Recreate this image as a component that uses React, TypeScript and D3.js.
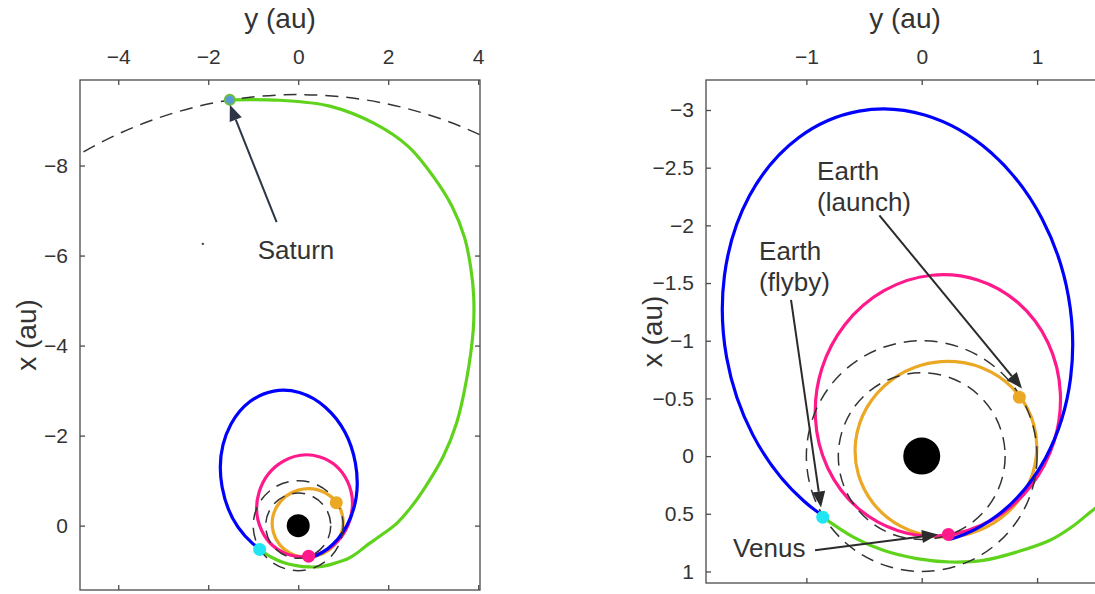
import React, { useEffect, useRef } from 'react'
import * as d3 from 'd3'

// points are [y (au), x (au)] : y runs across, x runs down
type Pt = [number, number]

const orbitRadii = [0.723, 1.0, 9.58] // Venus, Earth, Saturn (dashed)

// transfer orbits: centre, half-axes (before tilt), tilt in degrees
type Orbit = { name: string; center: Pt; ry: number; rx: number; tilt: number; color: string }
const orbits: Orbit[] = [
  { name: 'launch', center: [0.21, -0.06], ry: 0.79, rx: 0.759, tilt: -16, color: '#eaa824' },
  { name: 'venus', center: [0.14, -0.44], ry: 1.055, rx: 1.14, tilt: 17.6, color: '#ff1a8c' },
  { name: 'return', center: [-0.21, -1.12], ry: 1.505, rx: 1.9, tilt: -10.1, color: '#0000ff' },
]

const greenTrack: Pt[] = [
  [-0.858, 0.529], [-0.593, 0.702], [-0.333, 0.817], [-0.043, 0.889], [0.245, 0.918],
  [0.534, 0.904], [0.823, 0.832], [1.112, 0.73], [1.3, 0.615], [1.5, 0.456],
  [1.85, 0.21], [2.19, -0.05], [2.5, -0.4], [2.78, -0.79], [3.22, -1.53], [3.52, -2.28],
  [3.74, -3.24], [3.89, -4.35], [3.9, -5.09], [3.83, -5.76], [3.69, -6.42], [3.42, -7.09],
  [3.0, -7.76], [2.45, -8.42], [1.7, -8.93], [0.7, -9.32], [-0.41, -9.45], [-1.52, -9.46],
]

const launchPt: Pt = [0.846, -0.511]
const venusPt: Pt = [0.231, 0.679]
const flybyPt: Pt = [-0.858, 0.529]
const saturnPt: Pt = [-1.52, -9.46]
const strayPt: Pt = [-2.12, -6.26]

const leftYTicks = [-4, -2, 0, 2, 4]
const leftXTicks = [-8, -6, -4, -2, 0]
const rightYTicks = [-1, 0, 1]
const rightXTicks = [-3, -2.5, -2, -1.5, -1, -0.5, 0, 0.5, 1]

type Note = { lines: string[]; text: Pt; tail: Pt; tip: Pt; color: string }

const leftNotes: Note[] = [
  { lines: ['Saturn'], text: [-0.9, -5.93], tail: [-0.48, -6.74], tip: [-1.52, -9.35], color: '#2c3546' },
]
const rightNotes: Note[] = [
  { lines: ['Earth', '(launch)'], text: [-0.907, -2.389], tail: [-0.367, -2.086], tip: [0.869, -0.587], color: '#2b2b2b' },
  { lines: ['Earth', '(flyby)'], text: [-1.41, -1.696], tail: [-1.133, -1.355], tip: [-0.873, 0.445], color: '#2b2b2b' },
  { lines: ['Venus'], text: [-1.635, 0.878], tail: [-0.925, 0.817], tip: [0.141, 0.679], color: '#2b2b2b' },
]

const FONT = '"Liberation Sans", Arial, Helvetica, sans-serif'

type Panel = {
  id: string
  left: number; right: number; top: number; bottom: number
  yDomain: [number, number]; xDomain: [number, number]
  yTicks: number[]; xTicks: number[]
  sunR: number
  showSaturn: boolean
  notes: Note[]
}

const panels: Panel[] = [
  {
    id: 'l', left: 80, right: 480, top: 80, bottom: 590,
    yDomain: [-4.85, 4.04], xDomain: [-9.9, 1.43],
    yTicks: leftYTicks, xTicks: leftXTicks, sunR: 11.5, showSaturn: true, notes: leftNotes,
  },
  {
    id: 'r', left: 706, right: 1104, top: 80, bottom: 583,
    yDomain: [-1.87, 1.58], xDomain: [-3.26, 1.1],
    yTicks: rightYTicks, xTicks: rightXTicks, sunR: 18.5, showSaturn: false, notes: rightNotes,
  },
]

function drawPanel(svg: d3.Selection<SVGSVGElement, unknown, null, undefined>, p: Panel) {
  const sx = d3.scaleLinear().domain(p.yDomain).range([p.left, p.right])
  const sy = d3.scaleLinear().domain(p.xDomain).range([p.top, p.bottom])
  const len = (v: number) => sx(v) - sx(0)
  const axisColor = '#4a4a4a'
  const textColor = '#333'

  const defs = svg.append('defs')
  defs.append('clipPath').attr('id', 'clip-' + p.id)
    .append('rect')
    .attr('x', p.left).attr('y', p.top)
    .attr('width', p.right - p.left).attr('height', p.bottom - p.top)

  // the blue orbit is not drawn between the Earth flyby and Venus
  const mask = defs.append('mask').attr('id', 'gap-' + p.id)
    .attr('maskUnits', 'userSpaceOnUse')
    .attr('x', 0).attr('y', 0).attr('width', 1095).attr('height', 594)
  mask.append('rect').attr('x', 0).attr('y', 0).attr('width', 1095).attr('height', 594).attr('fill', '#fff')
  const wedge: Pt[] = [[0, 0], [flybyPt[0] * 6, flybyPt[1] * 6], [venusPt[0] * 6, venusPt[1] * 6]]
  mask.append('path')
    .attr('d', 'M' + wedge.map(d => `${sx(d[0])},${sy(d[1])}`).join('L') + 'Z')
    .attr('fill', '#000')

  const g = svg.append('g').attr('clip-path', `url(#clip-${p.id})`)

  const og = g.selectAll('g.orbit')
    .data(orbits)
    .join('g')
    .attr('class', 'orbit')
    .attr('mask', o => (o.name === 'return' ? `url(#gap-${p.id})` : null))
  og.append('ellipse')
    .attr('cx', o => sx(o.center[0])).attr('cy', o => sy(o.center[1]))
    .attr('rx', o => len(o.ry)).attr('ry', o => len(o.rx))
    .attr('transform', o => `rotate(${o.tilt},${sx(o.center[0])},${sy(o.center[1])})`)
    .attr('fill', 'none')
    .attr('stroke', o => o.color)
    .attr('stroke-width', 3.2)

  const open = d3.line<Pt>().x(d => sx(d[0])).y(d => sy(d[1])).curve(d3.curveCatmullRom)
  g.append('path')
    .attr('d', open(greenTrack))
    .attr('fill', 'none')
    .attr('stroke', '#5fd31c')
    .attr('stroke-width', 3.2)

  g.selectAll('circle.planet')
    .data(orbitRadii)
    .join('circle')
    .attr('class', 'planet')
    .attr('cx', sx(0)).attr('cy', sy(0))
    .attr('r', r => len(r))
    .attr('fill', 'none')
    .attr('stroke', '#333')
    .attr('stroke-width', 1.5)
    .attr('stroke-dasharray', '13,8')

  g.append('circle')
    .attr('cx', sx(0)).attr('cy', sy(0)).attr('r', p.sunR).attr('fill', '#000')

  const dots: { d: Pt; c: string }[] = [
    { d: flybyPt, c: '#1fe6f2' },
    { d: venusPt, c: '#ff1a8c' },
    { d: launchPt, c: '#eaa824' },
  ]
  g.selectAll('circle.dot')
    .data(dots)
    .join('circle')
    .attr('class', 'dot')
    .attr('cx', d => sx(d.d[0])).attr('cy', d => sy(d.d[1]))
    .attr('r', 6.5).attr('fill', d => d.c)

  if (p.showSaturn) {
    g.append('circle')
      .attr('cx', sx(saturnPt[0])).attr('cy', sy(saturnPt[1]))
      .attr('r', 5).attr('fill', '#5b9bd5').attr('stroke', '#6cbf3a').attr('stroke-width', 2)
    g.append('circle')
      .attr('cx', sx(strayPt[0])).attr('cy', sy(strayPt[1]))
      .attr('r', 1.2).attr('fill', '#444')
  }

  // annotations
  p.notes.forEach(n => {
    const x0 = sx(n.tail[0]), y0 = sy(n.tail[1])
    const x1 = sx(n.tip[0]), y1 = sy(n.tip[1])
    const ang = Math.atan2(y1 - y0, x1 - x0)
    const hl = 16, hw = 6.5
    const bx = x1 - hl * Math.cos(ang), by = y1 - hl * Math.sin(ang)
    svg.append('line')
      .attr('x1', x0).attr('y1', y0).attr('x2', bx).attr('y2', by)
      .attr('stroke', n.color).attr('stroke-width', 2)
    svg.append('path')
      .attr('d', `M${x1},${y1}L${bx - hw * Math.sin(ang)},${by + hw * Math.cos(ang)}L${bx + hw * Math.sin(ang)},${by - hw * Math.cos(ang)}Z`)
      .attr('fill', n.color)
    const t = svg.append('text')
      .attr('x', sx(n.text[0])).attr('y', sy(n.text[1]))
      .attr('font-family', FONT).attr('font-size', 26).attr('fill', textColor)
    n.lines.forEach((ln, i) => {
      t.append('tspan').attr('x', sx(n.text[0])).attr('dy', i === 0 ? 0 : 31).text(ln)
    })
  })

  // box + inward ticks on all sides
  svg.append('rect')
    .attr('x', p.left).attr('y', p.top)
    .attr('width', p.right - p.left).attr('height', p.bottom - p.top)
    .attr('fill', 'none').attr('stroke', axisColor).attr('stroke-width', 1.3)

  const fmt = (v: d3.NumberValue) => String(v).replace('-', '\u2212')
  const styleAxis = (sel: d3.Selection<SVGGElement, unknown, null, undefined>) => {
    sel.select('.domain').remove()
    sel.selectAll('.tick line').attr('stroke', axisColor).attr('stroke-width', 1.3)
    sel.selectAll('.tick text').attr('fill', textColor).attr('font-family', FONT).attr('font-size', 21)
  }

  svg.append('g').attr('transform', `translate(0,${p.top})`)
    .call(d3.axisTop(sx).tickValues(p.yTicks).tickSizeInner(-5).tickSizeOuter(0).tickPadding(16).tickFormat(fmt))
    .call(styleAxis)
  svg.append('g').attr('transform', `translate(0,${p.bottom})`)
    .call(d3.axisBottom(sx).tickValues(p.yTicks).tickSizeInner(-5).tickSizeOuter(0).tickFormat(() => ''))
    .call(styleAxis)
  svg.append('g').attr('transform', `translate(${p.left},0)`)
    .call(d3.axisLeft(sy).tickValues(p.xTicks).tickSizeInner(-5).tickSizeOuter(0).tickPadding(12).tickFormat(fmt))
    .call(styleAxis)
  svg.append('g').attr('transform', `translate(${p.right},0)`)
    .call(d3.axisRight(sy).tickValues(p.xTicks).tickSizeInner(-5).tickSizeOuter(0).tickFormat(() => ''))
    .call(styleAxis)

  // axis titles
  svg.append('text')
    .attr('x', (p.left + p.right) / 2).attr('y', 28)
    .attr('text-anchor', 'middle')
    .attr('font-family', FONT).attr('font-size', 28).attr('fill', textColor)
    .text('y (au)')
  const ly = (p.top + p.bottom) / 2
  const lx = p.left - 44
  svg.append('text')
    .attr('transform', `translate(${lx},${ly}) rotate(-90)`)
    .attr('text-anchor', 'middle')
    .attr('font-family', FONT).attr('font-size', 28).attr('fill', textColor)
    .text('x (au)')
}

export default function App() {
  const ref = useRef<SVGSVGElement>(null)

  useEffect(() => {
    if (!ref.current) return
    const svg = d3.select(ref.current)
    svg.selectAll('*').remove()
    panels.forEach(p => drawPanel(svg, p))
  }, [])

  return (
    <svg
      ref={ref}
      width={1095}
      height={594}
      style={{ position: 'absolute', left: 0, top: 0, background: '#fff' }}
    />
  )
}
